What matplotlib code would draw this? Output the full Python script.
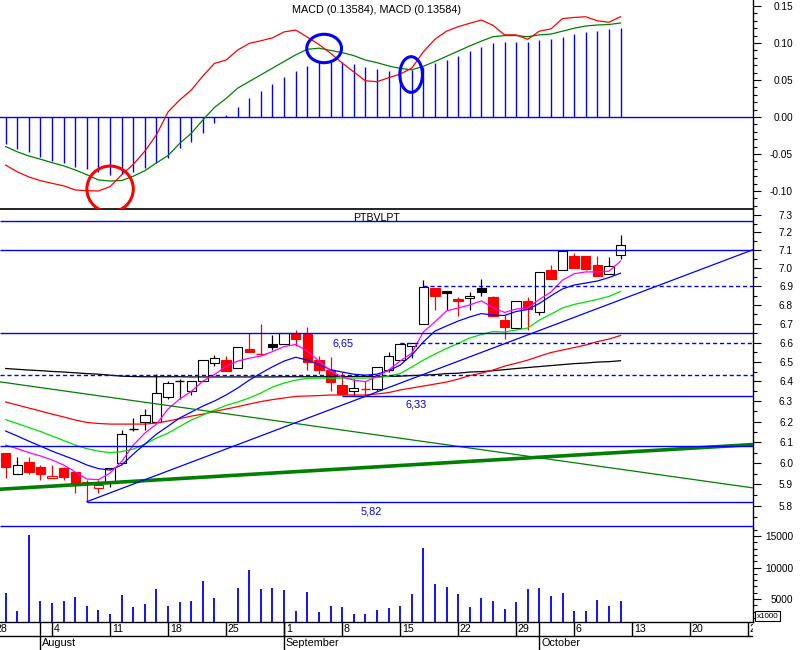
import numpy as np
import pandas as pd
import matplotlib
matplotlib.use("Agg")
import matplotlib.pyplot as plt
from matplotlib.patches import Rectangle, Ellipse
from matplotlib.ticker import FixedLocator, FormatStrFormatter, NullFormatter, MultipleLocator

plt.rcParams['font.family'] = ['Liberation Sans', 'DejaVu Sans']

# trading days shown (Jul 29 .. Oct 10) and the calendar used for the date axis
days = pd.bdate_range('2008-07-29', '2008-10-10')
calendar = pd.bdate_range('2008-07-28', '2008-10-31')

prev_close = 6.06
open_ = [6.05, 5.95, 6.005, 5.98, 5.93, 5.975, 5.96, 5.91, 5.885, 5.91,
         6.00, 6.165, 6.20, 6.20, 6.32, 6.40, 6.35, 6.40, 6.495, 6.51,
         6.47, 6.565, 6.54, 6.59, 6.595, 6.65, 6.645, 6.51, 6.46, 6.38,
         6.35, 6.36, 6.36, 6.46, 6.51, 6.58, 6.695, 6.89, 6.877, 6.83,
         6.835, 6.89, 6.84, 6.72, 6.675, 6.82, 6.76, 6.99, 6.99, 7.07,
         7.065, 7.02, 6.97, 7.075]
high = [6.05, 6.03, 6.03, 5.99, 5.99, 5.98, 5.96, 5.92, 5.92, 5.975,
        6.16, 6.22, 6.26, 6.44, 6.40, 6.415, 6.40, 6.51, 6.535, 6.53,
        6.575, 6.65, 6.70, 6.64, 6.65, 6.665, 6.68, 6.53, 6.525, 6.45,
        6.415, 6.40, 6.475, 6.55, 6.60, 6.60, 6.935, 6.89, 6.877, 6.84,
        6.87, 6.94, 6.85, 6.745, 6.82, 6.84, 6.98, 7.02, 7.10, 7.085,
        7.065, 7.065, 7.06, 7.185]
low = [5.93, 5.95, 5.95, 5.92, 5.93, 5.92, 5.86, 5.82, 5.86, 5.89,
       6.00, 6.155, 6.16, 6.20, 6.31, 6.31, 6.33, 6.40, 6.48, 6.455,
       6.47, 6.55, 6.54, 6.56, 6.59, 6.58, 6.46, 6.44, 6.35, 6.33,
       6.33, 6.33, 6.35, 6.45, 6.51, 6.52, 6.695, 6.77, 6.77, 6.74,
       6.77, 6.85, 6.74, 6.62, 6.675, 6.665, 6.745, 6.94, 6.99, 7.00,
       6.99, 6.955, 6.97, 7.05]
close = [5.98, 5.99, 5.96, 5.95, 5.94, 5.935, 5.905, 5.90, 5.895, 5.975,
         6.14, 6.165, 6.235, 6.34, 6.39, 6.40, 6.40, 6.51, 6.52, 6.455,
         6.575, 6.55, 6.54, 6.575, 6.65, 6.62, 6.50, 6.46, 6.395, 6.335,
         6.365, 6.36, 6.475, 6.53, 6.595, 6.60, 6.895, 6.85, 6.865, 6.82,
         6.85, 6.87, 6.74, 6.68, 6.82, 6.78, 6.98, 6.94, 7.095, 7.00,
         6.995, 6.955, 7.01, 7.13]
volume = [5950, 3100, 15160, 4680, 4365, 4680, 5320, 3890, 3250, 2620,
          5635, 3730, 4200, 6590, 3890, 4520, 4680, 7860, 5160, 0,
          6750, 9600, 6590, 6750, 6430, 3100, 6110, 2940, 3890, 3730,
          2620, 2620, 3250, 3570, 3890, 5790, 13100, 7380, 6900, 5790,
          3730, 5160, 4680, 3410, 4520, 6590, 6750, 5480, 5950, 3100,
          3100, 4840, 3890, 4680]

ma_magenta = [6.086, 6.069, 6.050, 6.034, 6.015, 5.991, 5.958, 5.925, 5.922, 5.953,
              6.008, 6.086, 6.144, 6.188, 6.262, 6.312, 6.350, 6.402, 6.435, 6.478,
              6.504, 6.519, 6.530, 6.553, 6.579, 6.590, 6.556, 6.504, 6.455, 6.422,
              6.407, 6.399, 6.425, 6.458, 6.504, 6.545, 6.655, 6.709, 6.767, 6.783,
              6.799, 6.821, 6.786, 6.759, 6.777, 6.783, 6.829, 6.869, 6.934, 6.969,
              6.979, 6.979, 6.983, 7.039]
ma_blue = [6.154, 6.130, 6.105, 6.081, 6.057, 6.036, 6.015, 5.991, 5.974, 5.967,
           5.991, 6.043, 6.091, 6.139, 6.178, 6.218, 6.247, 6.277, 6.302, 6.332,
           6.367, 6.407, 6.442, 6.475, 6.504, 6.524, 6.509, 6.486, 6.460, 6.448,
           6.437, 6.432, 6.437, 6.455, 6.483, 6.535, 6.603, 6.660, 6.687, 6.713,
           6.735, 6.753, 6.745, 6.743, 6.764, 6.775, 6.807, 6.848, 6.886, 6.907,
           6.918, 6.929, 6.948, 6.972]
ma_lime = [6.210, 6.191, 6.171, 6.152, 6.130, 6.108, 6.086, 6.069, 6.057, 6.050,
           6.055, 6.067, 6.091, 6.120, 6.144, 6.176, 6.208, 6.232, 6.257, 6.280,
           6.297, 6.317, 6.342, 6.372, 6.392, 6.407, 6.416, 6.417, 6.417, 6.417,
           6.417, 6.417, 6.420, 6.427, 6.440, 6.473, 6.509, 6.540, 6.569, 6.595,
           6.624, 6.642, 6.658, 6.655, 6.666, 6.676, 6.718, 6.750, 6.783, 6.802,
           6.815, 6.829, 6.845, 6.872]
ma_red = [6.297, 6.282, 6.267, 6.252, 6.237, 6.223, 6.208, 6.196, 6.191, 6.188,
          6.188, 6.188, 6.188, 6.193, 6.203, 6.215, 6.227, 6.237, 6.250, 6.262,
          6.274, 6.287, 6.299, 6.309, 6.317, 6.325, 6.327, 6.329, 6.332, 6.332,
          6.332, 6.332, 6.337, 6.344, 6.357, 6.367, 6.377, 6.387, 6.397, 6.412,
          6.430, 6.442, 6.458, 6.478, 6.493, 6.509, 6.529, 6.548, 6.561, 6.574,
          6.587, 6.605, 6.618, 6.637]
ma_black = [6.466, 6.462, 6.458, 6.455, 6.451, 6.448, 6.444, 6.440, 6.437, 6.432,
            6.427, 6.425, 6.424, 6.424, 6.424, 6.424, 6.423, 6.423, 6.423, 6.423,
            6.423, 6.423, 6.423, 6.423, 6.424, 6.424, 6.424, 6.424, 6.424, 6.424,
            6.425, 6.425, 6.425, 6.426, 6.427, 6.430, 6.432, 6.435, 6.440, 6.442,
            6.448, 6.450, 6.455, 6.460, 6.466, 6.471, 6.476, 6.481, 6.486, 6.491,
            6.494, 6.499, 6.501, 6.506]

macd = [-0.065, -0.074, -0.081, -0.086, -0.0896, -0.093, -0.0986, -0.0995, -0.100, -0.094,
        -0.078, -0.064, -0.046, -0.024, 0.007, 0.023, 0.0365, 0.0554, 0.0725, 0.077,
        0.0905, 0.0995, 0.103, 0.107, 0.115, 0.1175, 0.108, 0.098, 0.0863, 0.073,
        0.061, 0.049, 0.0477, 0.053, 0.058, 0.066, 0.088, 0.105, 0.116, 0.122,
        0.1266, 0.131, 0.124, 0.111, 0.111, 0.105, 0.116, 0.119, 0.133, 0.1345,
        0.1355, 0.130, 0.128, 0.1355]
signal = [-0.040, -0.047, -0.0527, -0.057, -0.0617, -0.066, -0.0716, -0.078, -0.085, -0.0865,
          -0.0858, -0.080, -0.0725, -0.062, -0.052, -0.0356, -0.022, -0.004, 0.013, 0.025,
          0.039, 0.048, 0.057, 0.066, 0.075, 0.084, 0.0915, 0.093, 0.090, 0.087,
          0.083, 0.077, 0.0735, 0.069, 0.0657, 0.0637, 0.0685, 0.075, 0.082, 0.089,
          0.096, 0.1025, 0.1085, 0.110, 0.110, 0.1085, 0.111, 0.112, 0.116, 0.120,
          0.123, 0.1243, 0.125, 0.127]
hist = [-0.0369, -0.0432, -0.0469, -0.0536, -0.059, -0.0626, -0.0671, -0.0707, -0.0748, -0.078,
        -0.077, -0.0739, -0.069, -0.0626, -0.055, -0.0423, -0.0333, -0.0212, -0.0077, 0.0023,
        0.014, 0.0253, 0.0356, 0.0446, 0.0545, 0.0626, 0.069, 0.0743, 0.0747, 0.0747,
        0.0716, 0.068, 0.065, 0.062, 0.061, 0.0635, 0.068, 0.0725, 0.077, 0.083,
        0.0896, 0.095, 0.0995, 0.101, 0.101, 0.1014, 0.104, 0.1054, 0.1085, 0.112,
        0.1144, 0.1166, 0.119, 0.120]

# horizontal levels: (price, first day index or None for full width, dashed)
levels = [(7.265, None, False), (7.10, None, False), (6.65, None, False),
          (6.60, 34, True), (6.90, 36, True), (6.435, None, True),
          (6.327, 29, False), (6.081, None, False), (5.82, 7, False),
          (5.709, None, False)]
level_labels = [(29.1, 6.596, '6,65'), (35.4, 6.284, '6,33'), (31.5, 5.776, '5,82')]

# marked MACD crossings: (day, value, width in days, height)
red_marks = [(9.0, -0.0973, 4.0, 0.062)]
blue_marks = [(27.45, 0.0926, 3.0, 0.0384), (34.95, 0.0574, 1.95, 0.0482)]

RED, BLUE, GREEN = '#ff0000', '#0000ff', '#008000'
XMIN, XMAX = -0.49, 64.42

fig = plt.figure(figsize=(8, 6.5), dpi=100, facecolor='white')


def panel(top, bottom):
    ax = fig.add_axes([0, (650 - bottom) / 650, 753 / 800, (bottom - top) / 650])
    ax.set_facecolor('none')
    return ax


ax_m = panel(0, 209)
ax_p = panel(209, 528)
ax_v = panel(528, 622)
ax_d = panel(622, 650)
ax_m.set_zorder(2)

x = np.arange(len(days))

for ax in (ax_m, ax_p, ax_v):
    ax.set_xlim(XMIN, XMAX)
    for s in ('top', 'left', 'bottom'):
        ax.spines[s].set_visible(False)
    ax.spines['right'].set_linewidth(1.0)
    ax.yaxis.tick_right()
    ax.set_xticks([])
    ax.tick_params(axis='y', which='major', length=6, width=0.8, pad=22.8, labelsize=7.3)
    ax.tick_params(axis='y', which='minor', length=3, width=0.8)

# MACD panel
ax_m.axhline(0, color=BLUE, lw=1.0, zorder=1)
ax_m.vlines(x, 0, hist, color=BLUE, lw=1.0, zorder=2)
ax_m.plot(x, signal, color=GREEN, lw=0.9, zorder=3)
ax_m.plot(x, macd, color=RED, lw=0.9, zorder=3)
for cx, cy, w, h in red_marks:
    ax_m.add_patch(Ellipse((cx, cy), w, h, fill=False, ec=RED, lw=2.2, zorder=4))
for cx, cy, w, h in blue_marks:
    ax_m.add_patch(Ellipse((cx, cy), w, h, fill=False, ec=BLUE, lw=2.2, zorder=4))
ax_m.set_ylim(-0.1243, 0.1581)
ax_m.set_yticks([-0.10, -0.05, 0.0, 0.05, 0.10, 0.15])
ax_m.yaxis.set_major_formatter(FormatStrFormatter('%.2f'))
ax_m.yaxis.set_minor_locator(MultipleLocator(0.01))
ax_m.spines['bottom'].set_visible(True)
ax_m.spines['bottom'].set_linewidth(1.2)
ax_m.spines['bottom'].set_color('black')
ax_m.text(0.5, 0.952, 'MACD (0.13584), MACD (0.13584)', transform=ax_m.transAxes,
          ha='center', va='center', fontsize=7.8)

# price panel
ax_p.set_yscale('log')
ax_p.set_ylim(5.70, 7.335)
ax_p.yaxis.set_major_locator(FixedLocator([5.8, 5.9, 6.0, 6.1, 6.2, 6.3, 6.4, 6.5,
                                           6.6, 6.7, 6.8, 6.9, 7.0, 7.1, 7.2, 7.3]))
ax_p.yaxis.set_major_formatter(FormatStrFormatter('%.1f'))
ax_p.yaxis.set_minor_locator(FixedLocator(np.arange(5.75, 7.3, 0.1)))
ax_p.yaxis.set_minor_formatter(NullFormatter())

bw = 0.82
prev = [prev_close] + close[:-1]
for i in x:
    o, h, l, c = open_[i], high[i], low[i], close[i]
    col = RED if c < prev[i] else 'black'
    ax_p.vlines(i, l, h, color=col, lw=0.9, zorder=2)
    if abs(c - o) < 1e-9:
        ax_p.hlines(o, i - bw / 2, i + bw / 2, color=col, lw=1.0, zorder=2.1)
    else:
        face = col if c < o else 'white'
        ax_p.add_patch(Rectangle((i - bw / 2, min(o, c)), bw, abs(c - o),
                                 facecolor=face, edgecolor=col, lw=0.8, zorder=2.1))

ax_p.plot(x, ma_black, color='black', lw=0.9, zorder=3)
ax_p.plot(x, ma_red, color=RED, lw=0.9, zorder=3)
ax_p.plot(x, ma_lime, color='#00e000', lw=0.9, zorder=3)
ax_p.plot(x, ma_blue, color=BLUE, lw=0.9, zorder=3)
ax_p.plot(x, ma_magenta, color='#ff00ff', lw=0.9, zorder=3)

# trend lines
ax_p.axline((0, 6.394), (53, 5.971), color=GREEN, lw=0.9, zorder=3)
ax_p.axline((0, 5.879), (53, 6.051), color=GREEN, lw=2.6, zorder=3)
ax_p.plot([7, XMAX + 0.5], [5.82, 7.115], color=BLUE, lw=0.9, zorder=3)

for price, start, dashed in levels:
    x0 = XMIN if start is None else start
    ax_p.hlines(price, x0, XMAX, color=BLUE, lw=1.0, zorder=3.2,
                linestyles=(0, (3, 2)) if dashed else 'solid')
for lx, ly, txt in level_labels:
    ax_p.text(lx, ly, txt, color=BLUE, fontsize=7.8, ha='center', va='center', zorder=5)
ax_p.text(0.5, 0.972, 'PTBVLPT', transform=ax_p.transAxes, ha='center', va='center',
          fontsize=7.6, zorder=5)

# volume panel
ax_v.vlines(x, 0, volume, color=BLUE, lw=1.3)
ax_v.set_ylim(1349, 16270)
ax_v.set_yticks([5000, 10000, 15000])
ax_v.yaxis.set_major_formatter(FormatStrFormatter('%d'))
ax_v.yaxis.set_minor_locator(MultipleLocator(1000))
ax_v.spines['bottom'].set_visible(True)
ax_v.spines['bottom'].set_linewidth(1.0)
fig.text(767.5 / 800, (650 - 616) / 650, 'x1000', ha='center', va='center', fontsize=5.8,
         bbox=dict(boxstyle='square,pad=0.2', fc='white', ec='black', lw=0.8))

for ax in (ax_m, ax_p, ax_v):
    plt.setp(ax.get_yticklabels(), ha='right')

# date band
ax_d.set_xlim(XMIN, XMAX)
ax_d.set_ylim(0, 28)
ax_d.axis('off')
cal_pos = np.arange(len(calendar)) - 1
ax_d.axhline(14, color='black', lw=1.0)
for d, p in zip(calendar, cal_pos):
    if d.weekday() == 0:
        ax_d.vlines(p, 14, 28, color='black', lw=1.0)
        ax_d.text(p + 0.15, 21, str(d.day), ha='left', va='center', fontsize=7.7, clip_on=True)
months = pd.Series(cal_pos, index=calendar).groupby(calendar.month).first()
for m, p in months.items():
    if m == 7:
        continue
    ax_d.vlines(p, 0, 28, color='black', lw=1.0)
    ax_d.text(p + 0.15, 6.5, pd.Timestamp(2008, m, 1).strftime('%B'), ha='left',
              va='center', fontsize=7.8, clip_on=True)

fig.savefig('out.png', dpi=100, facecolor='white')
